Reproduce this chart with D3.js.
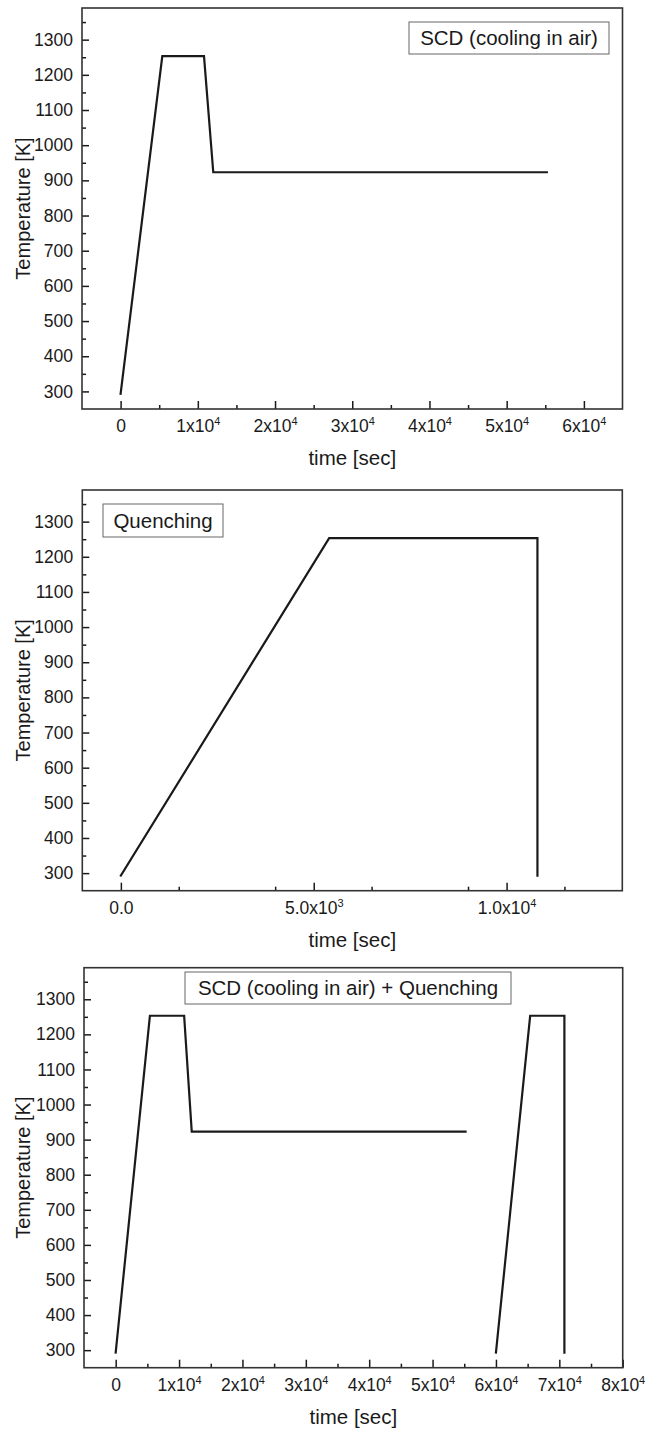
<!DOCTYPE html>
<html>
<head>
<meta charset="utf-8">
<script src="https://cdn.jsdelivr.net/npm/d3@7"></script>
<style>
  html, body { margin: 0; padding: 0; background: #fff; }
  svg { display: block; font-family: "Liberation Sans", Arial, sans-serif; }
</style>
</head>
<body>
<svg id="chart" width="647" height="1432"></svg>
<script>
// ---------------- DATA ----------------
// Panel 1: SCD (cooling in air)
const scdTime = [0, 5400, 10800, 12000, 55200];
const scdTemp = [293, 1253, 1253, 923, 923];

// Panel 2: Quenching
const quenchTime = [0, 5400, 10800, 10800];
const quenchTemp = [293, 1253, 1253, 293];

// Panel 3: SCD + Quenching (two separate segments)
const combo1Time = [0, 5400, 10800, 12000, 55200];
const combo1Temp = [293, 1253, 1253, 923, 923];
const combo2Time = [60000, 65400, 70800, 70800];
const combo2Temp = [293, 1253, 1253, 293];

// Axis ticks and labels
const yTicks = [300, 400, 500, 600, 700, 800, 900, 1000, 1100, 1200, 1300];

const xTicks1 = [0, 10000, 20000, 30000, 40000, 50000, 60000];
const xMant1 = ["0", "1x10", "2x10", "3x10", "4x10", "5x10", "6x10"];
const xExp1  = ["", "4", "4", "4", "4", "4", "4"];

const xTicks2 = [0, 5000, 10000];
const xMant2 = ["0.0", "5.0x10", "1.0x10"];
const xExp2  = ["", "3", "4"];

const xTicks3 = [0, 10000, 20000, 30000, 40000, 50000, 60000, 70000, 80000];
const xMant3 = ["0", "1x10", "2x10", "3x10", "4x10", "5x10", "6x10", "7x10", "8x10"];
const xExp3  = ["", "4", "4", "4", "4", "4", "4", "4", "4"];

const legendTexts = ["SCD (cooling in air)", "Quenching", "SCD (cooling in air) + Quenching"];
const xTitle = "time [sec]";
const yTitle = "Temperature [K]";

// ---------------- LAYOUT ----------------
const svg = d3.select("#chart");
const ink = "#1a1a1a";

const panels = [
  { top: 8, bottom: 409, left: 82, right: 622.5, xDomain: [-5000, 65000], minorStep: 5000,
    ticks: xTicks1, mant: xMant1, exp: xExp1,
    series: [[scdTime, scdTemp]], legend: legendTexts[0], box: [409, 22, 200, 32] },
  { top: 490, bottom: 890.7, left: 82.3, right: 622.3, xDomain: [-1000, 13000], minorStep: 2500,
    ticks: xTicks2, mant: xMant2, exp: xExp2,
    series: [[quenchTime, quenchTemp]], legend: legendTexts[1], box: [103, 504, 120, 33] },
  { top: 967.7, bottom: 1367.7, left: 84, right: 622.7, xDomain: [-5000, 80000], minorStep: 5000,
    ticks: xTicks3, mant: xMant3, exp: xExp3,
    series: [[combo1Time, combo1Temp], [combo2Time, combo2Temp]], legend: legendTexts[2], box: [185, 972, 326, 32] }
];

panels.forEach(p => {
  const x = d3.scaleLinear().domain(p.xDomain).range([p.left, p.right]);
  const y = d3.scaleLinear().domain([250, 1390]).range([p.bottom, p.top]);
  const g = svg.append("g");

  // minor x ticks
  const xMinor = d3.range(p.xDomain[0] + p.minorStep, p.xDomain[1], p.minorStep)
    .filter(v => !p.ticks.includes(v));
  g.append("g")
    .attr("transform", `translate(0,${p.bottom})`)
    .call(d3.axisBottom(x).tickValues(xMinor).tickSizeInner(-4).tickSizeOuter(0).tickFormat(""))
    .call(a => a.select(".domain").remove())
    .call(a => a.selectAll("line").attr("stroke", ink).attr("stroke-width", 1.5));

  // major x ticks with labels
  const xa = g.append("g")
    .attr("transform", `translate(0,${p.bottom})`)
    .call(d3.axisBottom(x).tickValues(p.ticks).tickSizeInner(-8).tickSizeOuter(0).tickPadding(11).tickFormat(""))
    .call(a => a.select(".domain").remove())
    .call(a => a.selectAll("line").attr("stroke", ink).attr("stroke-width", 1.5));
  xa.selectAll(".tick text").each(function(d) {
    const i = p.ticks.indexOf(d);
    const t = d3.select(this).attr("font-size", 17.5).attr("fill", ink)
      .attr("font-family", "Liberation Sans, Arial, sans-serif");
    t.append("tspan").text(p.mant[i]);
    if (p.exp[i]) t.append("tspan").attr("font-size", 11).attr("dy", -7).text(p.exp[i]);
  });

  // minor y ticks
  const yMinor = d3.range(350, 1390, 100);
  g.append("g")
    .attr("transform", `translate(${p.left},0)`)
    .call(d3.axisLeft(y).tickValues(yMinor).tickSizeInner(-4).tickSizeOuter(0).tickFormat(""))
    .call(a => a.select(".domain").remove())
    .call(a => a.selectAll("line").attr("stroke", ink).attr("stroke-width", 1.5));

  // major y ticks
  g.append("g")
    .attr("transform", `translate(${p.left},0)`)
    .call(d3.axisLeft(y).tickValues(yTicks).tickSizeInner(-7).tickSizeOuter(0).tickPadding(9).tickFormat(d3.format("d")))
    .call(a => a.select(".domain").remove())
    .call(a => a.selectAll("line").attr("stroke", ink).attr("stroke-width", 1.5))
    .call(a => a.selectAll("text").attr("font-size", 17.5).attr("fill", ink)
      .attr("font-family", "Liberation Sans, Arial, sans-serif"));

  // frame
  g.append("rect")
    .attr("x", p.left).attr("y", p.top)
    .attr("width", p.right - p.left).attr("height", p.bottom - p.top)
    .attr("fill", "none").attr("stroke", "#333").attr("stroke-width", 1.6);

  // data lines
  const line = d3.line().x(d => x(d[0])).y(d => y(d[1]));
  p.series.forEach(([ts, vs]) => {
    g.append("path")
      .datum(ts.map((t, i) => [t, vs[i]]))
      .attr("d", line)
      .attr("fill", "none").attr("stroke", ink).attr("stroke-width", 2.2)
      .attr("stroke-linejoin", "miter").attr("stroke-linecap", "square");
  });

  // legend box
  const [bx, by, bw, bh] = p.box;
  g.append("rect").attr("x", bx).attr("y", by).attr("width", bw).attr("height", bh)
    .attr("fill", "#fff").attr("stroke", "#666").attr("stroke-width", 1);
  g.append("text").attr("x", bx + bw / 2).attr("y", by + bh / 2 + 7)
    .attr("text-anchor", "middle").attr("font-size", 20.5).attr("fill", ink)
    .text(p.legend);

  // axis titles
  g.append("text").attr("x", (p.left + p.right) / 2).attr("y", p.bottom + 56)
    .attr("text-anchor", "middle").attr("font-size", 20.5).attr("fill", ink).text(xTitle);
  g.append("text")
    .attr("transform", `translate(30,${(p.top + p.bottom) / 2}) rotate(-90)`)
    .attr("text-anchor", "middle").attr("font-size", 20).attr("fill", ink).text(yTitle);
});
</script>
</body>
</html>
